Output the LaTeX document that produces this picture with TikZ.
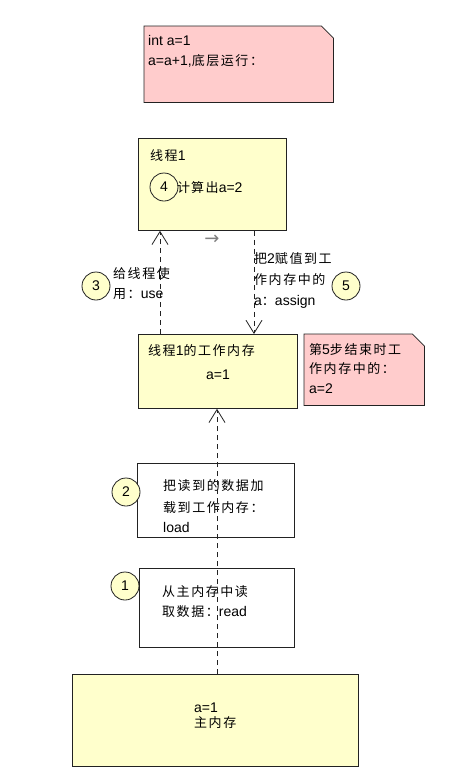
\documentclass[tikz,border=0pt]{standalone}
\usepackage{fontspec}
\setmainfont{Liberation Sans}
\newfontfamily\cjk[LetterSpace=12]{Noto Sans CJK SC}
\newfontfamily\symfont{DejaVu Sans}
\newcommand\zhx[1]{{\cjk\fontsize{13}{16}\selectfont #1}}
\usetikzlibrary{arrows.meta}
\definecolor{ybg}{HTML}{FFFFCC}
\definecolor{pbg}{HTML}{FFCCCC}
\definecolor{edge}{HTML}{222222}
\tikzset{
  lbl/.style={anchor=base west, inner sep=0pt, font=\fontsize{14}{16}\selectfont, text=black},
  ybox/.style={draw=edge, fill=ybg, line width=0.8pt, anchor=north west, inner sep=0pt},
  wbox/.style={draw=edge, fill=white, line width=0.8pt, anchor=north west, inner sep=0pt},
  hidbox/.style={draw=none, anchor=north west, inner sep=0pt},
  notefill/.style={draw=edge, fill=pbg, line width=0.8pt},
  numc/.style={circle, draw=edge, fill=ybg, line width=0.8pt, minimum size=28pt, inner sep=0pt, font=\fontsize{14}{16}\selectfont},
  dep/.style={draw=edge, line width=0.8pt, dash pattern=on 5pt off 4pt, -{Straight Barb[length=13pt, width=16pt, line width=0.8pt]}},
  depl/.style={draw=edge, line width=0.8pt, dash pattern=on 5pt off 4pt}
}
\begin{document}
\begin{tikzpicture}[x=1pt, y=-1pt]
\useasboundingbox[fill=white] (0,0) rectangle (466,780);

% note 1
\node[hidbox, minimum width=189pt, minimum height=76pt] (n1) at (144,26) {};
\draw[notefill] (n1.north west) -- ([xshift=-12pt]n1.north east) -- ([yshift=-12pt]n1.north east) -- (n1.south east) -- (n1.south west) -- cycle;
\node[lbl] (n1a) at (148,45) {int a=1};
\node[lbl] (n1b) at (148,65) {a=a+1,\zhx{底层运行：}};

% thread 1
\node[ybox, minimum width=148pt, minimum height=92pt] (t1) at (138,138) {};
\node[lbl] (t1a) at (150,160) {\zhx{线程}1};
\node[numc] (c4) at (164,187) {4};
\node[lbl] (t1b) at (177,192) {\zhx{计}\hspace{1pt}\zhx{算出}a=2};

% work memory
\node[ybox, minimum width=159pt, minimum height=74pt] (wm) at (138,334) {};
\node[lbl] (wma) at (148,355) {\zhx{线程}1\zhx{的工作内存}};
\node[lbl] (wmb) at (206,379) {a=1};

% note 2
\node[hidbox, minimum width=120pt, minimum height=71pt] (n2) at (304,334) {};
\draw[notefill] (n2.north west) -- ([xshift=-12pt]n2.north east) -- ([yshift=-12pt]n2.north east) -- (n2.south east) -- (n2.south west) -- cycle;
\node[lbl] (n2a) at (309,354) {\zhx{第}5\zhx{步结束时工}};
\node[lbl] (n2b) at (309,373) {\zhx{作内存中的：}};
\node[lbl] (n2c) at (309,393) {a=2};

% load box
\node[wbox, minimum width=157pt, minimum height=74pt] (ld) at (137,463) {};
\node[lbl] (lda) at (163,490) {\zhx{把读到的数据加}};
\node[lbl] (ldb) at (163,512) {\zhx{载到工作内存：}};
\node[lbl] (ldc) at (163,532) {load};
\node[numc] (c2) at (126,492) {2};

% read box
\node[wbox, minimum width=155pt, minimum height=79pt] (rd) at (139,568) {};
\node[lbl] (rda) at (162,596) {\zhx{从主内存中读}};
\node[lbl] (rdb) at (162,616) {\zhx{取数据：}read};
\node[numc] (c1) at (125,586) {1};

% main memory
\node[ybox, minimum width=286pt, minimum height=92pt] (mm) at (72,674) {};
\node[lbl] (mma) at (194,712) {a=1};
\node[lbl] (mmb) at (194,727) {\zhx{主内存}};

% connector x positions
\coordinate (lx) at (160,0);
\coordinate (rx) at (254,0);
\coordinate (mx) at (217,0);

% connectors
\draw[dep] (wm.north -| lx) -- (t1.south -| lx);
\draw[dep] (t1.south -| rx) -- (wm.north -| rx);
\draw[dep] (mm.north -| mx) -- (wm.south -| mx);

% labels of connectors
\node[lbl] (l3a) at (113,278) {\zhx{给线程使}};
\node[lbl] (l3b) at (113,298) {\zhx{用：}use};
\node[numc] (c3) at (96,286) {3};

\node[lbl] (l5a) at (254,263) {\zhx{把}2\zhx{赋值到工}};
\node[lbl] (l5b) at (254,284) {\zhx{作内存中的}};
\node[lbl] (l5c) at (254,305) {a\zhx{：}assign};
\node[numc] (c5) at (346,286) {5};

\node[anchor=center, inner sep=0pt, text=gray, font=\symfont\fontsize{18}{18}\selectfont] (arr) at (212,240) {→};
\end{tikzpicture}
\end{document}
